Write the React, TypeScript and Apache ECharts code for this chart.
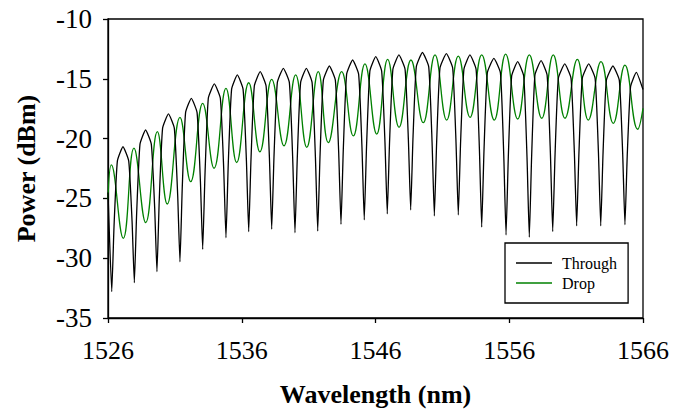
import React, { useEffect, useRef } from "react";
import * as echarts from "echarts";

const FONT = "'Liberation Serif', 'Times New Roman', serif";

const xTicks = [1526, 1536, 1546, 1556, 1566];
const yTicks = [-35, -30, -25, -20, -15, -10];

// Through port: edge points, notch minima, maxima, and notch flanks (wavelength nm, power dBm)
const throughEdges: [number, number][] = [
  [1526.0, -24.5],
  [1566.0, -15.9],
];
const throughDips: [number, number][] = [
  [1526.28, -32.8], [1527.97, -32.05], [1529.66, -31.13], [1531.38, -30.3],
  [1533.08, -29.26], [1534.82, -28.29], [1536.52, -27.78], [1538.24, -27.58],
  [1539.98, -27.87], [1541.68, -27.73], [1543.42, -27.17], [1545.16, -26.8],
  [1546.88, -26.3], [1548.63, -25.97], [1550.4, -26.47], [1552.19, -26.39],
  [1553.94, -27.4], [1555.76, -28.06], [1557.5, -28.25], [1559.25, -27.78],
  [1561.04, -27.3], [1562.84, -27.3], [1564.65, -27.2],
];
const throughPeaks: [number, number][] = [
  [1527.12, -20.68], [1528.81, -19.28], [1530.52, -17.94], [1532.23, -16.63],
  [1533.95, -15.43], [1535.67, -14.68], [1537.38, -14.4], [1539.11, -14.12],
  [1540.83, -14.12], [1542.55, -13.93], [1544.29, -13.43], [1546.02, -13.15],
  [1547.75, -13.0], [1549.51, -12.8], [1551.3, -12.9], [1553.06, -13.0],
  [1554.85, -13.3], [1556.63, -13.57], [1558.38, -13.48], [1560.15, -13.76],
  [1561.94, -13.76], [1563.75, -13.93], [1565.5, -14.46],
];
const throughFlanks: [number, number][] = [
  [1526.45, -27.35], [1526.7, -21.88],
  [1527.55, -21.88], [1527.8, -26.93], [1528.14, -26.3], [1528.39, -20.48],
  [1529.24, -20.48], [1529.49, -25.8], [1529.83, -25.19], [1530.08, -19.14],
  [1530.96, -19.14], [1531.21, -24.74], [1531.55, -24.15], [1531.8, -17.83],
  [1532.66, -17.83], [1532.91, -23.58], [1533.25, -23.04], [1533.5, -16.63],
  [1534.4, -16.63], [1534.65, -22.5], [1534.99, -22.17], [1535.24, -15.88],
  [1536.1, -15.88], [1536.35, -21.88], [1536.69, -21.76], [1536.94, -15.6],
  [1537.82, -15.6], [1538.07, -21.65], [1538.41, -21.52], [1538.66, -15.32],
  [1539.56, -15.32], [1539.81, -21.68], [1540.15, -21.68], [1540.4, -15.32],
  [1541.26, -15.32], [1541.51, -21.61], [1541.85, -21.52], [1542.1, -15.13],
  [1543.0, -15.13], [1543.25, -21.21], [1543.59, -20.99], [1543.84, -14.63],
  [1544.74, -14.63], [1544.99, -20.78], [1545.33, -20.66], [1545.58, -14.35],
  [1546.46, -14.35], [1546.71, -20.38], [1547.05, -20.31], [1547.3, -14.2],
  [1548.21, -14.2], [1548.46, -20.13], [1548.8, -20.04], [1549.05, -14.0],
  [1549.98, -14.0], [1550.23, -20.32], [1550.57, -20.36], [1550.82, -14.1],
  [1551.77, -14.1], [1552.02, -20.32], [1552.36, -20.36], [1552.61, -14.2],
  [1553.52, -14.2], [1553.77, -20.92], [1554.11, -21.05], [1554.36, -14.5],
  [1555.34, -14.5], [1555.59, -21.42], [1555.93, -21.54], [1556.18, -14.77],
  [1557.08, -14.77], [1557.33, -21.64], [1557.67, -21.6], [1557.92, -14.68],
  [1558.83, -14.68], [1559.08, -21.34], [1559.42, -21.47], [1559.67, -14.96],
  [1560.62, -14.96], [1560.87, -21.21], [1561.21, -21.21], [1561.46, -14.96],
  [1562.42, -14.96], [1562.67, -21.21], [1563.01, -21.28], [1563.26, -15.13],
  [1564.23, -15.13], [1564.48, -21.23], [1564.82, -21.47], [1565.07, -15.66],
];

// Drop port: edge points, maxima and minima
const dropEdges: [number, number][] = [
  [1526.0, -25.1],
  [1566.0, -17.47],
];
const dropPeaks: [number, number][] = [
  [1526.25, -22.2], [1527.94, -20.8], [1529.69, -19.42], [1531.38, -18.22],
  [1533.08, -17.05], [1534.82, -15.8], [1536.52, -15.33], [1538.24, -15.05],
  [1540.03, -14.68], [1541.72, -14.4], [1543.47, -14.4], [1545.21, -13.76],
  [1546.91, -13.37], [1548.65, -13.43], [1550.45, -13.0], [1552.19, -13.1],
  [1553.94, -13.0], [1555.73, -12.93], [1557.5, -13.0], [1559.29, -13.0],
  [1561.09, -13.37], [1562.86, -13.57], [1564.65, -13.85],
];
const dropDips: [number, number][] = [
  [1527.14, -28.34], [1528.82, -27.03], [1530.43, -25.47], [1532.18, -23.6],
  [1533.93, -22.48], [1535.62, -22.0], [1537.36, -21.1], [1539.16, -20.6],
  [1540.86, -20.73], [1542.47, -20.34], [1544.34, -19.78], [1546.09, -19.62],
  [1547.76, -19.06], [1549.57, -18.67], [1551.32, -18.45], [1553.07, -18.22],
  [1554.88, -18.45], [1556.63, -18.36], [1558.43, -18.3], [1560.17, -18.3],
  [1561.91, -18.45], [1563.78, -18.72], [1565.6, -19.22],
];

const byWavelength = (a: [number, number], b: [number, number]) => a[0] - b[0];

export default function App() {
  const ref = useRef<HTMLDivElement>(null);

  useEffect(() => {
    if (!ref.current) return;
    const chart = echarts.init(ref.current, null, { renderer: "svg" });

    const throughLine = [...throughEdges, ...throughDips, ...throughPeaks, ...throughFlanks].sort(byWavelength);
    const dropLine = [...dropEdges, ...dropPeaks, ...dropDips].sort(byWavelength);

    chart.setOption({
      animation: false,
      backgroundColor: "#ffffff",
      textStyle: { fontFamily: FONT, color: "#000" },
      grid: {
        left: 108,
        right: 30,
        top: 19,
        bottom: 94,
        show: true,
        borderColor: "#000",
        borderWidth: 1.3,
        backgroundColor: "transparent",
      },
      legend: {
        show: true,
        data: ["Through", "Drop"],
        orient: "vertical",
        left: 505,
        top: 243,
        padding: [12, 11, 12, 11],
        itemGap: 4,
        itemWidth: 36,
        itemHeight: 1.3,
        icon: "rect",
        borderColor: "#000",
        borderWidth: 1.3,
        backgroundColor: "#fff",
        textStyle: {
          fontFamily: FONT,
          fontSize: 16,
          color: "#000",
          lineHeight: 16,
          padding: [0, 0, 0, 5],
        },
      },
      xAxis: {
        type: "value",
        min: 1526,
        max: 1566,
        name: "Wavelength (nm)",
        nameLocation: "middle",
        nameGap: 63,
        nameTextStyle: { fontFamily: FONT, fontSize: 26, fontWeight: "bold", color: "#000" },
        axisLine: { show: true, onZero: false, lineStyle: { color: "#000", width: 1.3 } },
        axisTick: { show: true, length: 5, lineStyle: { color: "#000", width: 1.3 }, customValues: xTicks },
        axisLabel: {
          customValues: xTicks,
          formatter: (v: number) => String(v),
          fontFamily: FONT,
          fontSize: 26,
          color: "#000",
          margin: 19,
        },
        splitLine: { show: false },
      },
      yAxis: {
        type: "value",
        min: -35,
        max: -10,
        interval: 5,
        name: "Power (dBm)",
        nameLocation: "middle",
        nameGap: 69,
        nameTextStyle: { fontFamily: FONT, fontSize: 26, fontWeight: "bold", color: "#000" },
        axisLine: { show: true, onZero: false, lineStyle: { color: "#000", width: 1.3 } },
        axisTick: { show: true, length: 5, lineStyle: { color: "#000", width: 1.3 }, customValues: yTicks },
        axisLabel: {
          customValues: yTicks,
          formatter: (v: number) => String(v),
          fontFamily: FONT,
          fontSize: 27,
          color: "#000",
          margin: 16,
        },
        splitLine: { show: false },
      },
      series: [
        {
          name: "Through",
          type: "line",
          data: throughLine,
          symbol: "none",
          smooth: 0.15,
          lineStyle: { color: "#000000", width: 1.3 },
          itemStyle: { color: "#000000" },
          z: 3,
        },
        {
          name: "Drop",
          type: "line",
          data: dropLine,
          symbol: "none",
          smooth: 0.45,
          lineStyle: { color: "#008000", width: 1.3 },
          itemStyle: { color: "#008000" },
          z: 2,
        },
      ],
    });

    return () => chart.dispose();
  }, []);

  return (
    <div
      ref={ref}
      style={{ position: "fixed", left: 0, top: 0, width: 673, height: 412, background: "#fff" }}
    />
  );
}
